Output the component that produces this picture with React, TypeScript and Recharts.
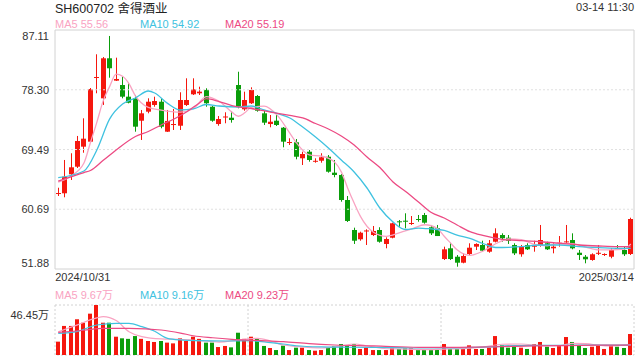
import { Bar, ComposedChart, Line, ReferenceArea, ReferenceLine, XAxis, YAxis } from 'recharts'

const RED = '#f5170e'
const GREEN = '#0b9d0b'
const MA5_COLOR = '#f9a3c2'
const MA10_COLOR = '#40c2e0'
const MA20_COLOR = '#ec4a83'
const FONT = '"Liberation Sans", Arial, "Noto Sans CJK SC", sans-serif'

// daily candles, 2024/10/31 .. 2025/03/14
const opens = [
  62.99, 63.04, 65.84, 66.96, 69.91, 70.65, 80.06, 77.04, 82.94, 79.64,
  79.0, 77.28, 77.04, 73.74, 75.07, 76.06, 76.54, 72.12, 73.14, 73.0,
  76.06, 77.63, 77.78, 78.27, 75.8, 73.25, 74.29, 74.18, 79.0, 75.42,
  76.31, 77.38, 74.83, 73.25, 73.74, 72.71, 70.51, 70.56, 68.2, 69.17,
  67.76, 67.84, 68.43, 66.08, 65.74, 62.05, 57.63, 56.26, 57.48, 56.89,
  57.63, 55.57, 56.49, 58.91, 59.0, 58.57, 59.25, 59.84, 58.03, 57.88,
  53.35, 54.93, 53.69, 52.81, 54.09, 55.17, 55.42, 54.43, 55.9, 56.89,
  56.49, 55.42, 54.05, 55.42, 55.23, 55.42, 55.67, 54.93, 55.57, 55.86,
  56.15, 54.28, 53.69, 53.21, 54.12, 54.0, 53.69, 54.98, 54.68, 54.09,
]
const closes = [
  63.08, 65.49, 66.87, 70.75, 71.09, 78.41, 80.18, 82.94, 81.47, 79.89,
  77.28, 76.39, 72.86, 74.83, 76.54, 76.64, 72.86, 73.7, 73.25, 76.79,
  76.79, 78.37, 78.02, 76.31, 73.74, 73.99, 74.36, 73.84, 75.8, 76.79,
  78.27, 75.21, 73.45, 73.59, 73.11, 70.65, 70.6, 68.43, 68.83, 67.95,
  67.83, 68.35, 66.22, 65.74, 62.05, 58.96, 56.05, 57.23, 57.56, 57.48,
  55.9, 56.3, 58.62, 58.81, 58.91, 58.66, 59.13, 58.71, 57.14, 56.74,
  54.78, 53.35, 52.81, 53.8, 55.02, 55.57, 54.58, 55.67, 57.14, 56.41,
  56.05, 54.19, 55.17, 54.78, 55.31, 56.15, 54.78, 55.17, 55.76, 55.95,
  54.93, 53.94, 53.31, 54.05, 54.27, 54.09, 54.68, 54.83, 54.05, 59.25,
]
const highs = [
  63.86, 67.95, 68.94, 71.49, 74.09, 78.56, 83.53, 83.13, 86.23, 83.03,
  80.23, 79.34, 77.53, 75.32, 77.04, 77.28, 77.04, 75.32, 75.47, 77.93,
  79.99, 79.99, 78.75, 78.52, 75.91, 74.43, 74.98, 75.17, 80.96, 78.02,
  78.66, 77.53, 75.17, 74.58, 74.58, 72.81, 71.15, 71.04, 69.17, 69.42,
  68.2, 68.94, 68.68, 67.95, 65.88, 62.64, 57.97, 57.38, 57.73, 58.22,
  58.03, 56.55, 58.71, 59.1, 60.09, 59.69, 59.84, 60.14, 58.37, 58.37,
  55.17, 55.76, 53.94, 54.19, 55.67, 55.67, 56.05, 56.15, 57.88, 57.14,
  56.89, 55.67, 55.42, 55.67, 56.05, 58.37, 55.9, 55.67, 56.74, 58.37,
  57.14, 54.68, 53.94, 54.19, 55.42, 54.19, 54.93, 55.42, 55.17, 59.44,
]
const lows = [
  62.64, 62.45, 65.0, 66.77, 69.02, 70.45, 77.78, 76.06, 80.08, 79.59,
  77.04, 76.3, 72.12, 70.9, 74.83, 75.8, 72.62, 72.08, 72.37, 72.37,
  75.91, 77.53, 77.53, 75.8, 73.59, 73.0, 73.36, 73.45, 75.57, 75.21,
  76.2, 75.07, 73.11, 72.77, 72.96, 69.82, 70.16, 68.05, 67.21, 67.7,
  67.55, 67.55, 66.08, 65.4, 61.8, 58.81, 55.57, 56.05, 55.42, 56.74,
  55.76, 54.93, 56.4, 58.03, 57.88, 58.37, 58.85, 58.56, 56.89, 56.74,
  53.21, 53.21, 52.22, 52.72, 53.94, 54.68, 54.43, 54.28, 55.8, 55.9,
  55.57, 53.94, 53.69, 54.68, 54.43, 55.17, 54.68, 54.19, 55.17, 55.57,
  54.78, 53.21, 52.72, 53.1, 53.94, 53.8, 53.46, 54.68, 53.8, 53.94,
]
// volume in 万
const volumes = [
  12.4, 27.0, 27.0, 33.2, 30.0, 38.4, 46.45, 30.0, 30.0, 17.0,
  15.5, 15.0, 17.6, 15.0, 13.0, 12.1, 13.0, 11.5, 10.8, 15.5,
  13.0, 17.0, 15.0, 11.5, 11.5, 7.4, 8.4, 7.1, 20.7, 15.0,
  17.0, 15.0, 8.4, 6.5, 4.6, 8.7, 4.6, 6.8, 6.8, 4.6,
  4.0, 4.6, 7.1, 8.4, 10.2, 8.4, 10.2, 5.6, 6.8, 4.6,
  4.6, 4.6, 6.5, 5.6, 6.2, 6.2, 5.6, 4.6, 4.6, 5.6,
  10.2, 5.6, 5.6, 5.6, 9.0, 5.6, 5.6, 6.8, 17.6, 9.0,
  6.8, 8.4, 6.8, 5.6, 10.2, 12.1, 7.7, 6.5, 9.0, 16.7,
  12.1, 9.0, 6.5, 7.7, 9.0, 5.6, 9.0, 7.7, 6.5, 19.5,
]

// moving averages as [day, value], day counted from 1
const ma5Points = [
  [1, 64.7], [3, 65.6], [5, 67.5], [6, 70.5], [7, 73.5], [8, 76.7], [9, 78.8], [10, 80.6], [11, 80.3],
  [12, 79.2], [13, 77.4], [15, 75.7], [17, 75.3], [20, 75.0], [22, 75.5], [24, 77.3], [26, 76.6],
  [28, 75.0], [29, 74.4], [30, 74.9], [31, 75.7], [33, 75.9], [35, 74.6], [37, 71.9], [38, 70.5],
  [40, 68.7], [42, 68.5], [44, 67.6], [45, 66.2], [46, 63.8], [47, 61.6], [48, 59.6], [50, 57.3],
  [52, 56.7], [54, 57.2], [56, 57.8], [58, 58.4], [60, 57.8], [61, 56.7], [62, 55.7], [63, 54.7],
  [65, 53.9], [67, 54.5], [69, 55.6], [71, 56.3], [73, 56.2], [75, 55.5], [77, 55.3], [79, 55.7],
  [81, 55.6], [83, 55.1], [85, 54.7], [87, 54.7], [89, 54.8], [90, 55.56],
]
const ma10Points = [
  [1, 65.34], [5, 66.33], [7, 69.42], [9, 74.0], [11, 76.2], [13, 77.09], [15, 78.12], [16, 77.82],
  [18, 76.3], [20, 75.32], [22, 75.47], [24, 76.13], [26, 75.91], [29, 75.76], [31, 75.91], [33, 75.32],
  [35, 74.83], [37, 74.14], [39, 72.81], [41, 71.34], [43, 69.72], [45, 67.95], [47, 66.18], [49, 63.82],
  [51, 60.87], [53, 58.85], [55, 57.7], [57, 57.92], [59, 57.78], [61, 57.56], [63, 56.89], [65, 56.38],
  [67, 55.64], [69, 55.05], [71, 55.08], [73, 55.17], [76, 55.42], [79, 55.42], [82, 55.17], [85, 55.02],
  [88, 54.93], [90, 54.92],
]
const ma20Points = [
  [1, 64.85], [5, 66.1], [6, 66.4], [8, 67.9], [10, 69.42], [13, 71.41], [15, 72.15], [17, 73.11],
  [19, 73.99], [21, 75.07], [23, 76.39], [24, 77.0], [26, 76.57], [28, 75.98], [31, 75.54], [34, 75.02],
  [37, 74.51], [39, 74.14], [41, 73.33], [43, 72.52], [45, 71.49], [47, 70.16], [49, 68.39], [51, 66.84],
  [53, 64.75], [55, 63.3], [57, 61.76], [59, 60.21], [61, 59.4], [63, 58.37], [65, 57.38], [67, 56.82],
  [70, 56.26], [73, 56.05], [76, 55.9], [79, 55.67], [82, 55.42], [85, 55.27], [88, 55.17], [90, 55.19],
]
const volMa5Points = [
  [1, 21.6], [4, 28], [7, 34.5], [8, 35.6], [10, 32], [12, 21.6], [14, 17], [17, 14.9], [20, 14.5],
  [23, 13.3], [26, 12], [29, 13.9], [32, 15.5], [34, 13], [36, 9.3], [38, 8.0], [42, 6.5], [45, 8.5],
  [47, 10.2], [49, 8.6], [52, 5.8], [55, 5.5], [58, 5.0], [61, 5.5], [64, 6.0], [67, 7.5], [70, 10.0],
  [73, 10.2], [76, 8.8], [79, 8.8], [81, 10.8], [83, 10.5], [86, 8.5], [88, 8.8], [90, 9.67],
]
const volMa10Points = [
  [1, 20.1], [4, 22], [7, 27.9], [10, 29.4], [12, 29.4], [14, 26.3], [16, 22], [18, 15.5], [20, 14.0],
  [23, 13.3], [27, 13], [31, 13.3], [34, 11.5], [36, 10.2], [38, 8.6], [42, 7.5], [46, 7.2], [50, 7.0],
  [54, 6.8], [57, 6.5], [60, 6.5], [64, 6.8], [68, 7.5], [72, 8.8], [76, 9.0], [80, 9.0], [84, 9.3],
  [88, 9.2], [90, 9.16],
]
const volMa20Points = [
  [1, 21.1], [5, 23], [8, 24.8], [12, 24.8], [17, 23.2], [20, 20.4], [22, 17.9], [25, 16], [28, 14.6],
  [32, 13.5], [36, 12.4], [40, 10.5], [44, 9.3], [50, 8.5], [57, 7.1], [62, 7.0], [66, 7.3], [70, 7.8],
  [75, 8.5], [80, 8.8], [85, 9.1], [90, 9.23],
]

const dateLabels = ['2024/10/31', '2025/03/14']
const priceTicks = [51.88, 60.69, 69.49, 78.3, 87.11]
const volumeTicks = [0, 46.45]

const spread = (pts: number[][]) => {
  const out: (number | null)[] = opens.map(() => null)
  pts.forEach(([d, v]) => { out[d - 1] = v })
  return out
}
const ma5 = spread(ma5Points)
const ma10 = spread(ma10Points)
const ma20 = spread(ma20Points)
const vma5 = spread(volMa5Points)
const vma10 = spread(volMa10Points)
const vma20 = spread(volMa20Points)

const data = opens.map((open, i) => ({
  i,
  open,
  close: closes[i],
  high: highs[i],
  low: lows[i],
  range: [lows[i], highs[i]],
  vol: volumes[i],
  ma5: ma5[i],
  ma10: ma10[i],
  ma20: ma20[i],
  vma5: vma5[i],
  vma10: vma10[i],
  vma20: vma20[i],
}))

const Candle = (props: any) => {
  const { x, y, width, height, payload } = props
  const { open, close, high, low } = payload
  const color = close >= open ? RED : GREEN
  const top = Math.min(y, y + height)
  const h = Math.abs(height)
  const span = high - low
  const py = (v: number) => (span === 0 ? top : top + ((high - v) / span) * h)
  const cx = Math.floor(x + width / 2)
  const bTop = py(Math.max(open, close))
  const bBot = py(Math.min(open, close))
  return (
    <g>
      <line x1={cx + 0.5} x2={cx + 0.5} y1={top} y2={top + h} stroke={color} strokeWidth={1} />
      <rect x={cx - 2} y={bTop} width={5} height={Math.max(bBot - bTop, 1)} fill={color} />
    </g>
  )
}

const VolBar = (props: any) => {
  const { x, y, width, height, payload } = props
  const color = payload.close >= payload.open ? RED : GREEN
  const cx = Math.floor(x + width / 2)
  return <rect x={cx - 2} y={y} width={4} height={height} fill={color} />
}

const PriceTick = (props: any) => {
  const { x, y, payload } = props
  const v = payload.value
  const dy = v === priceTicks[priceTicks.length - 1] ? 10 : v === priceTicks[0] ? -2 : 4
  return (
    <text x={x + 2} y={y + dy} textAnchor="end" fontSize={11} fill="#333" fontFamily={FONT}>
      {v.toFixed(2)}
    </text>
  )
}

const VolTick = (props: any) => {
  const { x, y, payload } = props
  const v = payload.value
  const top = v === volumeTicks[volumeTicks.length - 1]
  return (
    <text x={x + 2} y={y + (top ? 10 : -4)} textAnchor="end" fontSize={11} fill="#333" fontFamily={FONT}>
      {top ? `${v.toFixed(2)}万` : '0'}
    </text>
  )
}

const DateTick = (props: any) => {
  const { x, y, payload } = props
  const first = payload.value === 0
  return (
    <text x={first ? x - 3 : x + 3} y={y - 4} dy="0.71em" textAnchor={first ? 'start' : 'end'} fontSize={11} fill="#333" fontFamily={FONT}>
      {first ? dateLabels[0] : dateLabels[1]}
    </text>
  )
}

const maLine = (key: string, color: string, w = 1.3) => (
  <Line
    key={key}
    type="monotone"
    dataKey={key}
    stroke={color}
    strokeWidth={w}
    dot={false}
    activeDot={false}
    connectNulls
    isAnimationActive={false}
  />
)

export default function App() {
  return (
    <div style={{ position: 'absolute', left: 0, top: 0, width: 640, height: 360, background: '#fff', fontFamily: FONT }}>
      <svg width={640} height={360} style={{ position: 'absolute', left: 0, top: 0 }}>
        <text x={55} y={12.5} fontSize={12.5} fill="#222">SH600702 舍得酒业</text>
        <text x={634} y={11} fontSize={11} fill="#333" textAnchor="end">03-14 11:30</text>
        <text x={55} y={27.5} fontSize={11} fill={MA5_COLOR}>MA5 55.56</text>
        <text x={140} y={27.5} fontSize={11} fill={MA10_COLOR}>MA10 54.92</text>
        <text x={225} y={27.5} fontSize={11} fill={MA20_COLOR}>MA20 55.19</text>
        <text x={55} y={298.5} fontSize={11} fill={MA5_COLOR}>MA5 9.67万</text>
        <text x={140} y={298.5} fontSize={11} fill={MA10_COLOR}>MA10 9.16万</text>
        <text x={225} y={298.5} fontSize={11} fill={MA20_COLOR}>MA20 9.23万</text>
      </svg>

      <div style={{ position: 'absolute', left: 0, top: 0 }}>
        <ComposedChart width={640} height={290} data={data} margin={{ top: 30, right: 6, bottom: 5, left: 0 }}>
          <XAxis dataKey="i" ticks={[0, data.length - 1]} interval={0} tick={<DateTick />} tickLine={false} axisLine={false} height={16} />
          <YAxis domain={[51.88, 87.11]} ticks={priceTicks} allowDataOverflow width={55} tickLine={false} axisLine={false} tick={<PriceTick />} />
          {priceTicks.slice(1, -1).map((t) => (
            <ReferenceLine key={t} y={t} stroke="#e0e0e0" strokeDasharray="2 2" />
          ))}
          <ReferenceArea y1={51.88} y2={87.11} fill="none" stroke="#d2d2d2" />
          <Bar dataKey="range" shape={<Candle />} isAnimationActive={false} />
          {maLine('ma5', MA5_COLOR)}
          {maLine('ma10', MA10_COLOR)}
          {maLine('ma20', MA20_COLOR)}
        </ComposedChart>
      </div>

      <div style={{ position: 'absolute', left: 0, top: 300 }}>
        <ComposedChart width={640} height={60} data={data} margin={{ top: 5, right: 6, bottom: 5, left: 0 }}>
          <XAxis dataKey="i" hide />
          <YAxis domain={[0, 46.45]} ticks={volumeTicks} allowDataOverflow width={55} tickLine={false} axisLine={false} tick={<VolTick />} />
          <ReferenceArea y1={0} y2={46.45} fill="none" stroke="#d2d2d2" strokeDasharray="2 2" />
          <ReferenceLine x={30} position="start" stroke="#d2d2d2" strokeDasharray="2 2" />
          <ReferenceLine x={60} position="start" stroke="#d2d2d2" strokeDasharray="2 2" />
          <Bar dataKey="vol" shape={<VolBar />} isAnimationActive={false} />
          {maLine('vma5', MA5_COLOR, 1.2)}
          {maLine('vma10', MA10_COLOR, 1.2)}
          {maLine('vma20', MA20_COLOR, 1.2)}
        </ComposedChart>
      </div>
    </div>
  )
}
